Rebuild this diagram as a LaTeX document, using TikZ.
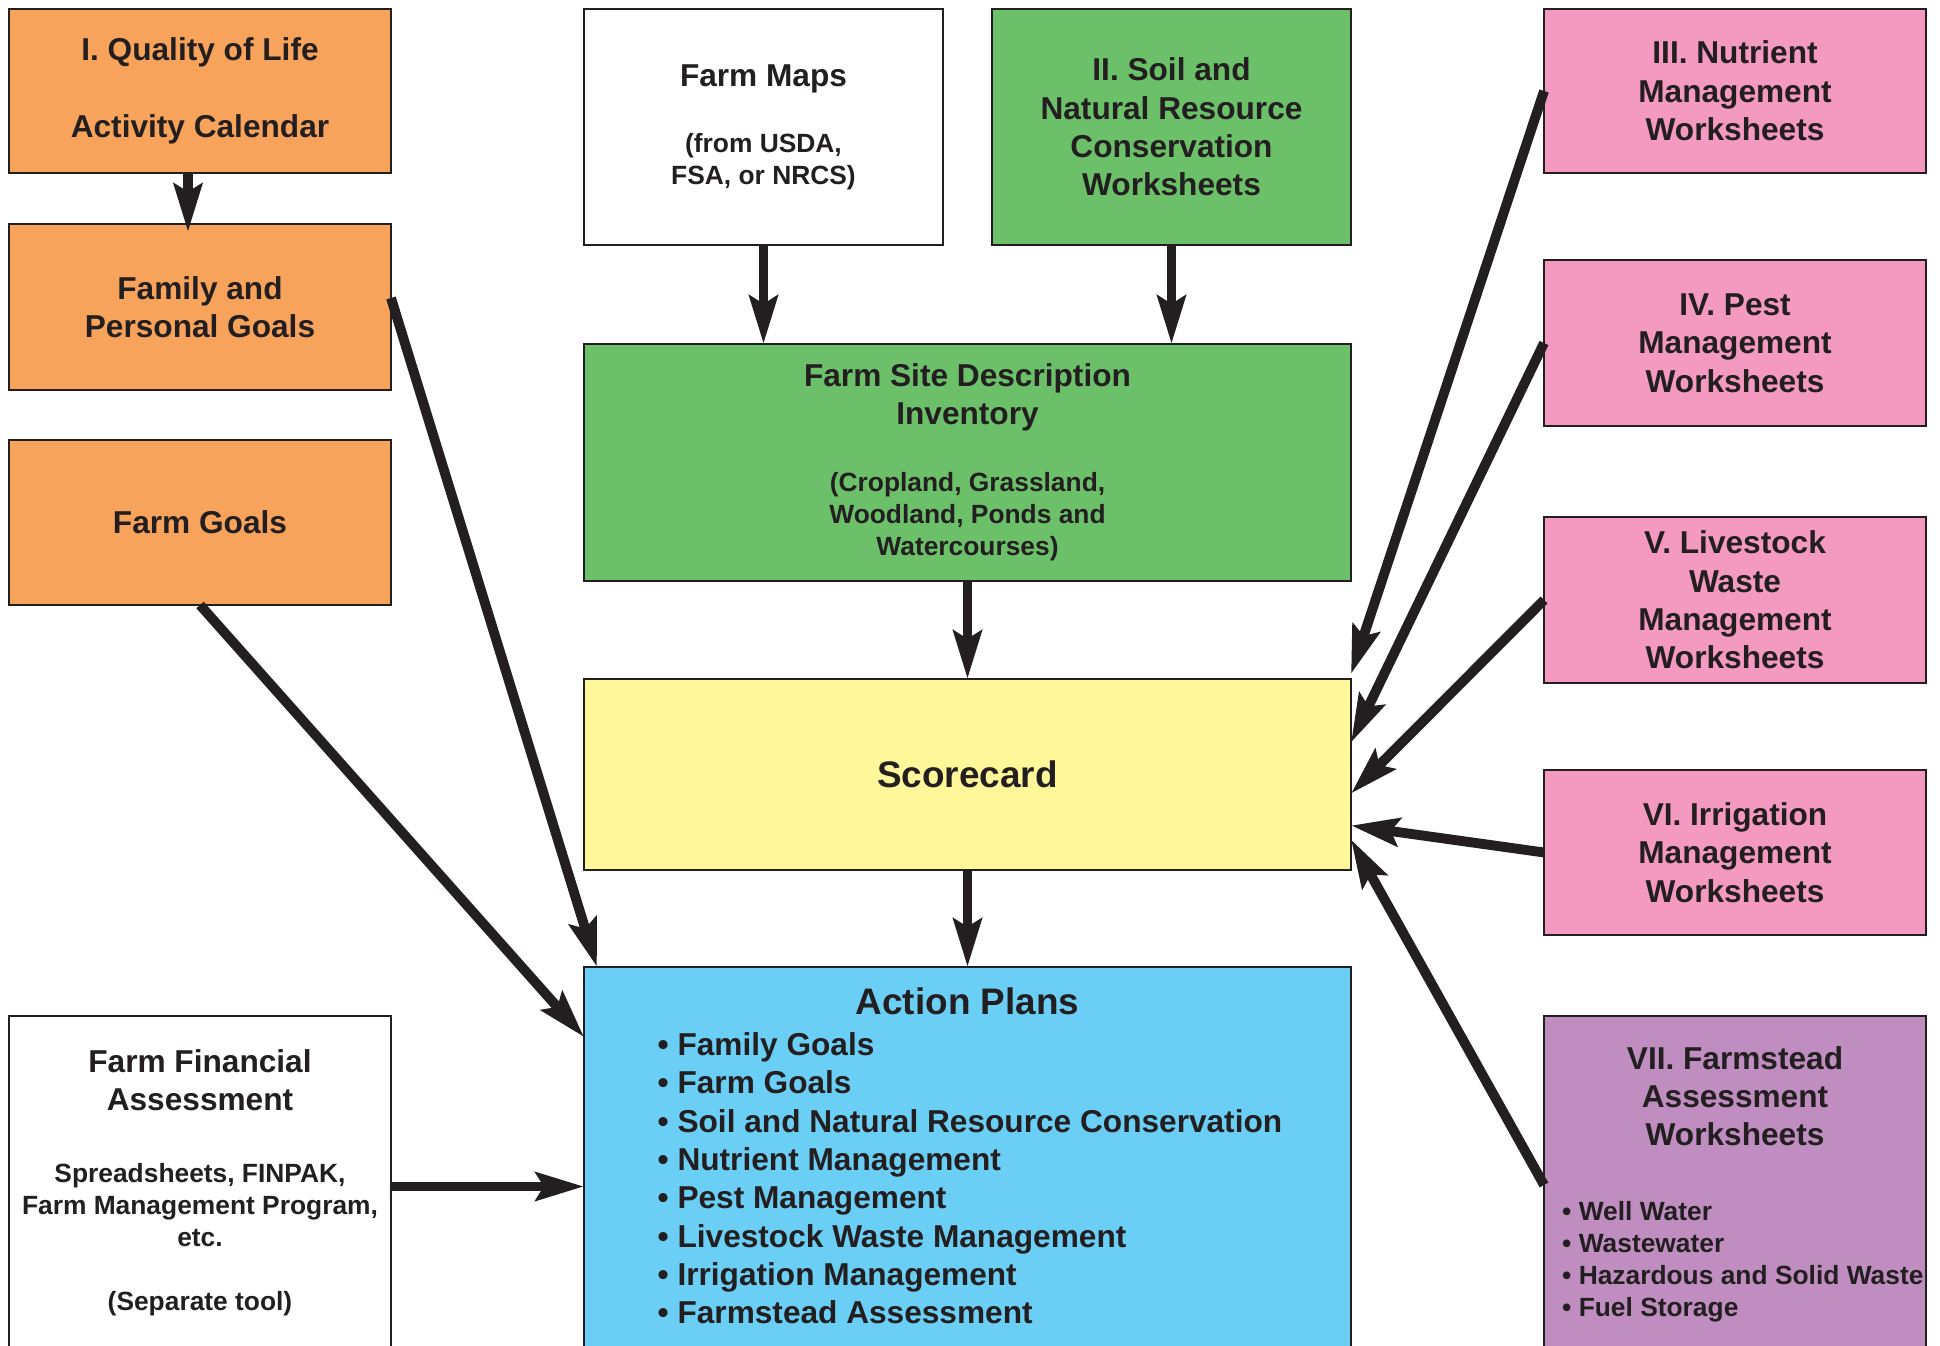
\documentclass[tikz,border=0pt]{standalone}
\usepackage{fontspec}
\setmainfont{Liberation Sans}
\usetikzlibrary{arrows.meta, positioning}

\definecolor{ink}{HTML}{231F20}
\definecolor{lifeorange}{HTML}{F7A35C}
\definecolor{sitegreen}{HTML}{6CC06A}
\definecolor{cardyellow}{HTML}{FFF799}
\definecolor{planblue}{HTML}{6BCEF5}
\definecolor{sheetpink}{HTML}{F49AC1}
\definecolor{steadpurple}{HTML}{BF8DC0}

\newcommand{\bodyfont}{\fontsize{9}{10.9}\selectfont\bfseries}
\newcommand{\notefont}{\fontsize{7.5}{9.1}\selectfont\bfseries}
\newcommand{\headfont}{\fontsize{10.5}{12.6}\selectfont\bfseries}

\begin{document}
\begin{tikzpicture}[
    box/.style={draw=ink, line width=0.6pt, inner sep=0pt, outer sep=0pt, align=center, text=ink, font=\bodyfont},
    sidebox/.style={box, minimum width=3.82cm},
    midbox/.style={box, minimum width=7.67cm},
    topbox/.style={box, minimum width=3.59cm, minimum height=2.36cm},
    words/.style={inner sep=0pt, align=center, text=ink, font=\bodyfont},
    arr/.style={draw=ink, line width=2.8pt, -{Stealth[length=4.8mm, width=2.8mm, inset=0.8mm]}}
]
    \useasboundingbox (0,0) rectangle (19.40,-13.46);
    \clip (0,0) rectangle (19.40,-13.46);
    \fill[white] (0,0) rectangle (19.40,-13.46);

    % left column
    \node[sidebox, fill=lifeorange, minimum height=1.64cm] (life) at (2.00,-0.91) {I. Quality of Life\\[10.9pt]Activity Calendar};
    \node[sidebox, fill=lifeorange, minimum height=1.66cm] (family) at (2.00,-3.07) {Family and\\Personal Goals};
    \node[sidebox, fill=lifeorange, minimum height=1.65cm] (farmgoals) at (2.00,-5.225) {Farm Goals};
    \node[sidebox, fill=white, minimum height=4cm, anchor=north] (finance) at (2.00,-10.16) {};
    \node[words] (financetitle) at (2.00,-10.80) {Farm Financial\\Assessment};
    \node[words, font=\notefont] (financenote) at (2.00,-12.40) {Spreadsheets, FINPAK,\\Farm Management Program,\\etc.\\[9.1pt](Separate tool)};

    % middle column
    \node[topbox, fill=white] (maps) at (7.635,-1.27) {};
    \node[words] (mapstitle) at (7.635,-0.79) {Farm Maps};
    \node[words, font=\notefont] (mapsnote) at (7.635,-1.62) {(from USDA,\\FSA, or NRCS)};
    \node[topbox, fill=sitegreen] (soil) at (11.715,-1.27) {II. Soil and\\Natural Resource\\Conservation\\Worksheets};

    \node[midbox, fill=sitegreen, minimum height=2.37cm] (site) at (9.675,-4.625) {};
    \node[words] (sitetitle) at (9.675,-3.975) {Farm Site Description\\Inventory};
    \node[words, font=\notefont] (sitenote) at (9.675,-5.17) {(Cropland, Grassland,\\Woodland, Ponds and\\Watercourses)};

    \node[midbox, fill=cardyellow, minimum height=1.91cm, font=\headfont] (score) at (9.675,-7.745) {Scorecard};

    \node[midbox, fill=planblue, minimum height=4cm, anchor=north] (plans) at (9.675,-9.67) {};
    \node[words, font=\headfont] (planstitle) at (9.675,-10.01) {Action Plans};
    \node[words, align=left, anchor=west] (planslist) at (6.57,-11.784) {\textbullet\ Family Goals\\
        \textbullet\ Farm Goals\\
        \textbullet\ Soil and Natural Resource Conservation\\
        \textbullet\ Nutrient Management\\
        \textbullet\ Pest Management\\
        \textbullet\ Livestock Waste Management\\
        \textbullet\ Irrigation Management\\
        \textbullet\ Farmstead Assessment};

    % right column
    \node[sidebox, fill=sheetpink, minimum height=1.64cm] (nutrient) at (17.35,-0.91) {III. Nutrient\\Management\\Worksheets};
    \node[sidebox, fill=sheetpink, minimum height=1.66cm] (pest) at (17.35,-3.43) {IV. Pest\\Management\\Worksheets};
    \node[sidebox, fill=sheetpink, minimum height=1.66cm] (livestock) at (17.35,-6.00) {V. Livestock\\Waste\\Management\\Worksheets};
    \node[sidebox, fill=sheetpink, minimum height=1.65cm] (irrigation) at (17.35,-8.525) {VI. Irrigation\\Management\\Worksheets};
    \node[sidebox, fill=steadpurple, minimum height=4cm, anchor=north] (farmstead) at (17.35,-10.16) {};
    \node[words] (steadtitle) at (17.35,-10.96) {VII. Farmstead\\Assessment\\Worksheets};
    \node[words, font=\notefont, align=left, anchor=west] (steadlist) at (15.615,-12.62) {\textbullet\ Well Water\\
        \textbullet\ Wastewater\\
        \textbullet\ Hazardous and Solid Waste\\
        \textbullet\ Fuel Storage};

    % arrows
    \draw[arr] ([xshift=-0.12cm]life.south) -- ([xshift=-0.12cm,yshift=-0.08cm]family.north);
    \draw[arr] ([yshift=0.09cm]family.east) -- ([xshift=0.13cm]plans.north west);
    \draw[arr] (farmgoals.south) -- ([yshift=-0.70cm]plans.north west);
    \draw[arr] ([yshift=-1.705cm]finance.north east) -- ([yshift=-2.195cm]plans.north west);

    \draw[arr] (maps.south) -- (maps.south |- site.north);
    \draw[arr] (soil.south) -- (soil.south |- site.north);
    \draw[arr] (site.south) -- (score.north);
    \draw[arr] (score.south) -- (plans.north);

    \draw[arr] (nutrient.west) -- ([yshift=0.05cm]score.north east);
    \foreach \sheet/\dy in {pest/0.32, livestock/-0.19, irrigation/-0.51}
        \draw[arr] (\sheet.west) -- ([yshift=\dy cm]score.east);
    \draw[arr] ([yshift=-1.69cm]farmstead.north west) -- ([yshift=-0.65cm]score.east);
\end{tikzpicture}
\end{document}
